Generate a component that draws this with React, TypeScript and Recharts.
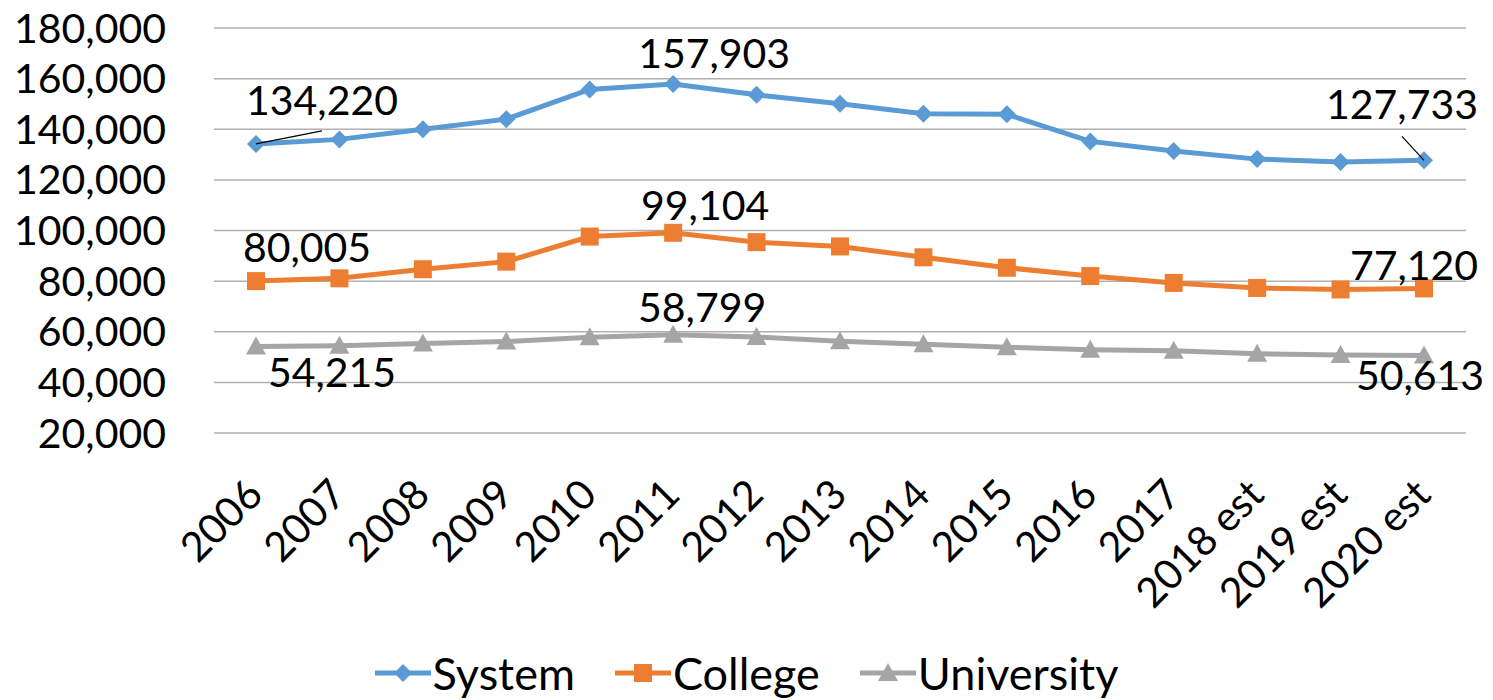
import React from "react";
import { CartesianGrid, LabelList, Legend, Line, LineChart, XAxis, YAxis } from "recharts";

const categories = ["2006", "2007", "2008", "2009", "2010", "2011", "2012", "2013", "2014", "2015", "2016", "2017", "2018 est", "2019 est", "2020 est"];
const systemValues = [134220, 136000, 140000, 144000, 155700, 157903, 153600, 150100, 146100, 145900, 135200, 131400, 128200, 127100, 127733];
const collegeValues = [80005, 81100, 84700, 87700, 97600, 99104, 95400, 93700, 89400, 85300, 82000, 79300, 77300, 76700, 77120];
const universityValues = [54215, 54500, 55400, 56100, 57800, 58799, 57900, 56200, 55100, 53900, 52900, 52500, 51300, 50800, 50613];
const yTicks = [20000, 40000, 60000, 80000, 100000, 120000, 140000, 160000, 180000];

const data = categories.map((year, i) => ({
  year,
  system: systemValues[i],
  college: collegeValues[i],
  university: universityValues[i],
}));

const FONT = "Lato, 'Open Sans', sans-serif";
const BLUE = "#5b9bd5";
const ORANGE = "#ed7d31";
const GRAY = "#a5a5a5";

const fmt = (v: number) => v.toLocaleString("en-US");

// marker shapes
const Diamond = ({ cx, cy, fill }: any) => (
  <polygon points={`${cx},${cy - 9} ${cx + 9},${cy} ${cx},${cy + 9} ${cx - 9},${cy}`} fill={fill} />
);
const Square = ({ cx, cy, fill }: any) => <rect x={cx - 9} y={cy - 9} width={18} height={18} fill={fill} />;
const Triangle = ({ cx, cy, fill }: any) => (
  <polygon points={`${cx},${cy - 10} ${cx + 10},${cy + 8} ${cx - 10},${cy + 8}`} fill={fill} />
);

const dotOf = (Shape: any, color: string) => (p: any) => (
  <Shape key={`dot-${p.index}`} cx={p.cx} cy={p.cy} fill={color} />
);

type LabelPos = { dx: number; dy: number; leader?: [number, number] };

// only first, peak and last points carry labels
const makeLabel = (positions: Record<number, LabelPos>) => (props: any) => {
  const { x, y, index, value } = props;
  const pos = positions[index];
  if (!pos) return null;
  return (
    <g>
      {pos.leader && (
        <line x1={x} y1={y} x2={x + pos.leader[0]} y2={y + pos.leader[1]} stroke="#000" strokeWidth={1.2} />
      )}
      <text x={x + pos.dx} y={y + pos.dy} textAnchor="middle" fontSize={41} fontFamily={FONT} fill="#000">
        {fmt(value)}
      </text>
    </g>
  );
};

const systemLabel = makeLabel({
  0: { dx: 66, dy: -29, leader: [66, -13] },
  5: { dx: 41, dy: -16 },
  14: { dx: -22, dy: -41, leader: [-22, -24] },
});
const collegeLabel = makeLabel({
  0: { dx: 51, dy: -19 },
  5: { dx: 32, dy: -13 },
  14: { dx: -10, dy: -8 },
});
const universityLabel = makeLabel({
  0: { dx: 76, dy: 41 },
  5: { dx: 29, dy: -13 },
  14: { dx: -4, dy: 34 },
});

const XTick = ({ x, y, payload }: any) => (
  <text
    transform={`translate(${x + 9},${y + 56}) rotate(-45)`}
    textAnchor="end"
    fontSize={41}
    fontFamily={FONT}
    fill="#000"
  >
    {payload.value}
  </text>
);

const legendItems = [
  { name: "System", color: BLUE, shape: Diamond },
  { name: "College", color: ORANGE, shape: Square },
  { name: "University", color: GRAY, shape: Triangle },
];

const LegendContent = () => (
  <div style={{ display: "flex", justifyContent: "center", alignItems: "center", gap: 40, fontFamily: FONT }}>
    {legendItems.map(({ name, color, shape: Shape }) => (
      <div key={name} style={{ display: "flex", alignItems: "center" }}>
        <svg width={56} height={24}>
          <line x1={0} y1={12} x2={56} y2={12} stroke={color} strokeWidth={5} />
          <Shape cx={28} cy={12} fill={color} />
        </svg>
        <span style={{ fontSize: 45, color: "#000", marginLeft: 2, lineHeight: "50px" }}>{name}</span>
      </div>
    ))}
  </div>
);

export default function App() {
  return (
    <div style={{ position: "absolute", left: 0, top: 0, width: 1493, height: 700, background: "#fff" }}>
      <LineChart width={1493} height={700} data={data} margin={{ top: 28, right: 27, bottom: 0, left: 0 }}>
        <CartesianGrid vertical={false} stroke="#b0b0b0" strokeWidth={1.5} />
        <XAxis
          dataKey="year"
          interval={0}
          height={267}
          axisLine={false}
          tickLine={false}
          padding={{ left: 42, right: 42 }}
          tick={<XTick />}
        />
        <YAxis
          width={214}
          domain={[20000, 180000]}
          ticks={yTicks}
          interval={0}
          axisLine={false}
          tickLine={false}
          tickMargin={42}
          tickFormatter={fmt}
          tick={{ fontSize: 41, fill: "#000", fontFamily: FONT }}
        />
        <Legend
          layout="horizontal"
          verticalAlign="middle"
          align="center"
          content={<LegendContent />}
          wrapperStyle={{ top: 648, left: 0, width: 1493 }}
        />
        <Line
          dataKey="system"
          stroke={BLUE}
          strokeWidth={5}
          dot={dotOf(Diamond, BLUE)}
          activeDot={false}
          isAnimationActive={false}
        >
          <LabelList dataKey="system" content={systemLabel} />
        </Line>
        <Line
          dataKey="college"
          stroke={ORANGE}
          strokeWidth={5}
          dot={dotOf(Square, ORANGE)}
          activeDot={false}
          isAnimationActive={false}
        >
          <LabelList dataKey="college" content={collegeLabel} />
        </Line>
        <Line
          dataKey="university"
          stroke={GRAY}
          strokeWidth={5}
          dot={dotOf(Triangle, GRAY)}
          activeDot={false}
          isAnimationActive={false}
        >
          <LabelList dataKey="university" content={universityLabel} />
        </Line>
      </LineChart>
    </div>
  );
}
